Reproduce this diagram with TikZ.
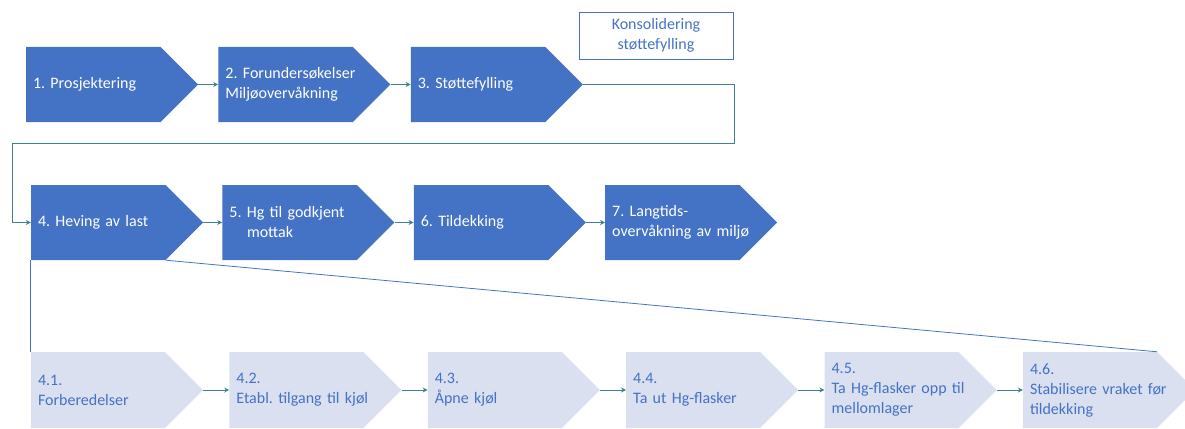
\documentclass[tikz,border=0pt]{standalone}
\usepackage{fontspec}
\setmainfont{Carlito}
\usetikzlibrary{arrows.meta,positioning}
\definecolor{hovedblaa}{HTML}{4472C4}
\definecolor{lysblaa}{HTML}{DAE0F0}
\definecolor{pilfarge}{HTML}{41808F}
\frenchspacing

\begin{document}
\begin{tikzpicture}[x=1pt,y=-1pt,
  chevron/.style={minimum width=172pt, minimum height=#1, inner xsep=7pt, inner ysep=0pt,
    text width=158pt, align=left, font=\fontsize{16}{20}\selectfont},
  fase/.style={chevron=75pt, text=white, path picture={
    \fill[hovedblaa] (path picture bounding box.south west) -- ([xshift=-37.5pt]path picture bounding box.south east)
      -- (path picture bounding box.east) -- ([xshift=-37.5pt]path picture bounding box.north east)
      -- (path picture bounding box.north west) -- cycle;}},
  delfase/.style={chevron=76pt, text=hovedblaa, path picture={
    \fill[lysblaa] (path picture bounding box.south west) -- ([xshift=-38pt]path picture bounding box.south east)
      -- (path picture bounding box.east) -- ([xshift=-38pt]path picture bounding box.north east)
      -- (path picture bounding box.north west) -- cycle;}},
  pil/.style={draw=pilfarge, line width=0.8pt, -{Stealth[length=5pt,width=5pt]}},
  linje/.style={draw=hovedblaa, line width=0.8pt}]
\clip (0,0) rectangle (1185,428);

% hovedfaser
\node[fase] (s1) at (112,84.5) {1. Prosjektering};
\node[fase, right=20pt of s1] (s2) {2. Forundersøkelser\\Miljøovervåkning};
\node[fase, right=20pt of s2] (s3) {3. Støttefylling};
\node[draw=hovedblaa, line width=0.8pt, text=hovedblaa, minimum width=154pt, minimum height=47pt,
  align=center, font=\fontsize{16}{20}\selectfont] (kons) at (656,35.5) {Konsolidering\\støttefylling};

\node[fase] (s4) at (117,222.5) {4. Heving av last};
\node[fase, right=19pt of s4] (s5) {5. Hg til godkjent\\\hspace*{1.1em}mottak};
\node[fase, right=19pt of s5] (s6) {6. Tildekking};
\node[fase, right=19pt of s6] (s7) {7. Langtids-\\overvåkning av miljø};

% delfaser under 4
\node[delfase] (d1) at (117,390) {4.1.\\Forberedelser};
\node[delfase, right=26pt of d1] (d2) {4.2.\\Etabl. tilgang til kjøl};
\node[delfase, right=26pt of d2] (d3) {4.3.\\Åpne kjøl};
\node[delfase, right=26pt of d3] (d4) {4.4.\\Ta ut Hg-flasker};
\node[delfase, right=26pt of d4] (d5) {4.5.\\Ta Hg-flasker opp til\\mellomlager};
\node[delfase, right=26pt of d5] (d6) {4.6.\\Stabilisere vraket før\\tildekking};

\draw[pil] (s1.east) -- (s2.west);
\draw[pil] (s2.east) -- (s3.west);
\draw[pil] (s3.east) -- ++(151,0) |- (12,143) |- (s4.west);
\draw[pil] (s4.east) -- (s5.west);
\draw[pil] (s5.east) -- (s6.west);
\draw[pil] (s6.east) -- (s7.west);

\draw[linje] (s4.south west) -- (d1.north west);
\draw[linje] ([xshift=-37.5pt]s4.south east) -- ([xshift=-38pt]d6.north east);

\draw[pil] (d1.east) -- (d2.west);
\draw[pil] (d2.east) -- (d3.west);
\draw[pil] (d3.east) -- (d4.west);
\draw[pil] (d4.east) -- (d5.west);
\draw[pil] (d5.east) -- (d6.west);
\end{tikzpicture}
\end{document}
